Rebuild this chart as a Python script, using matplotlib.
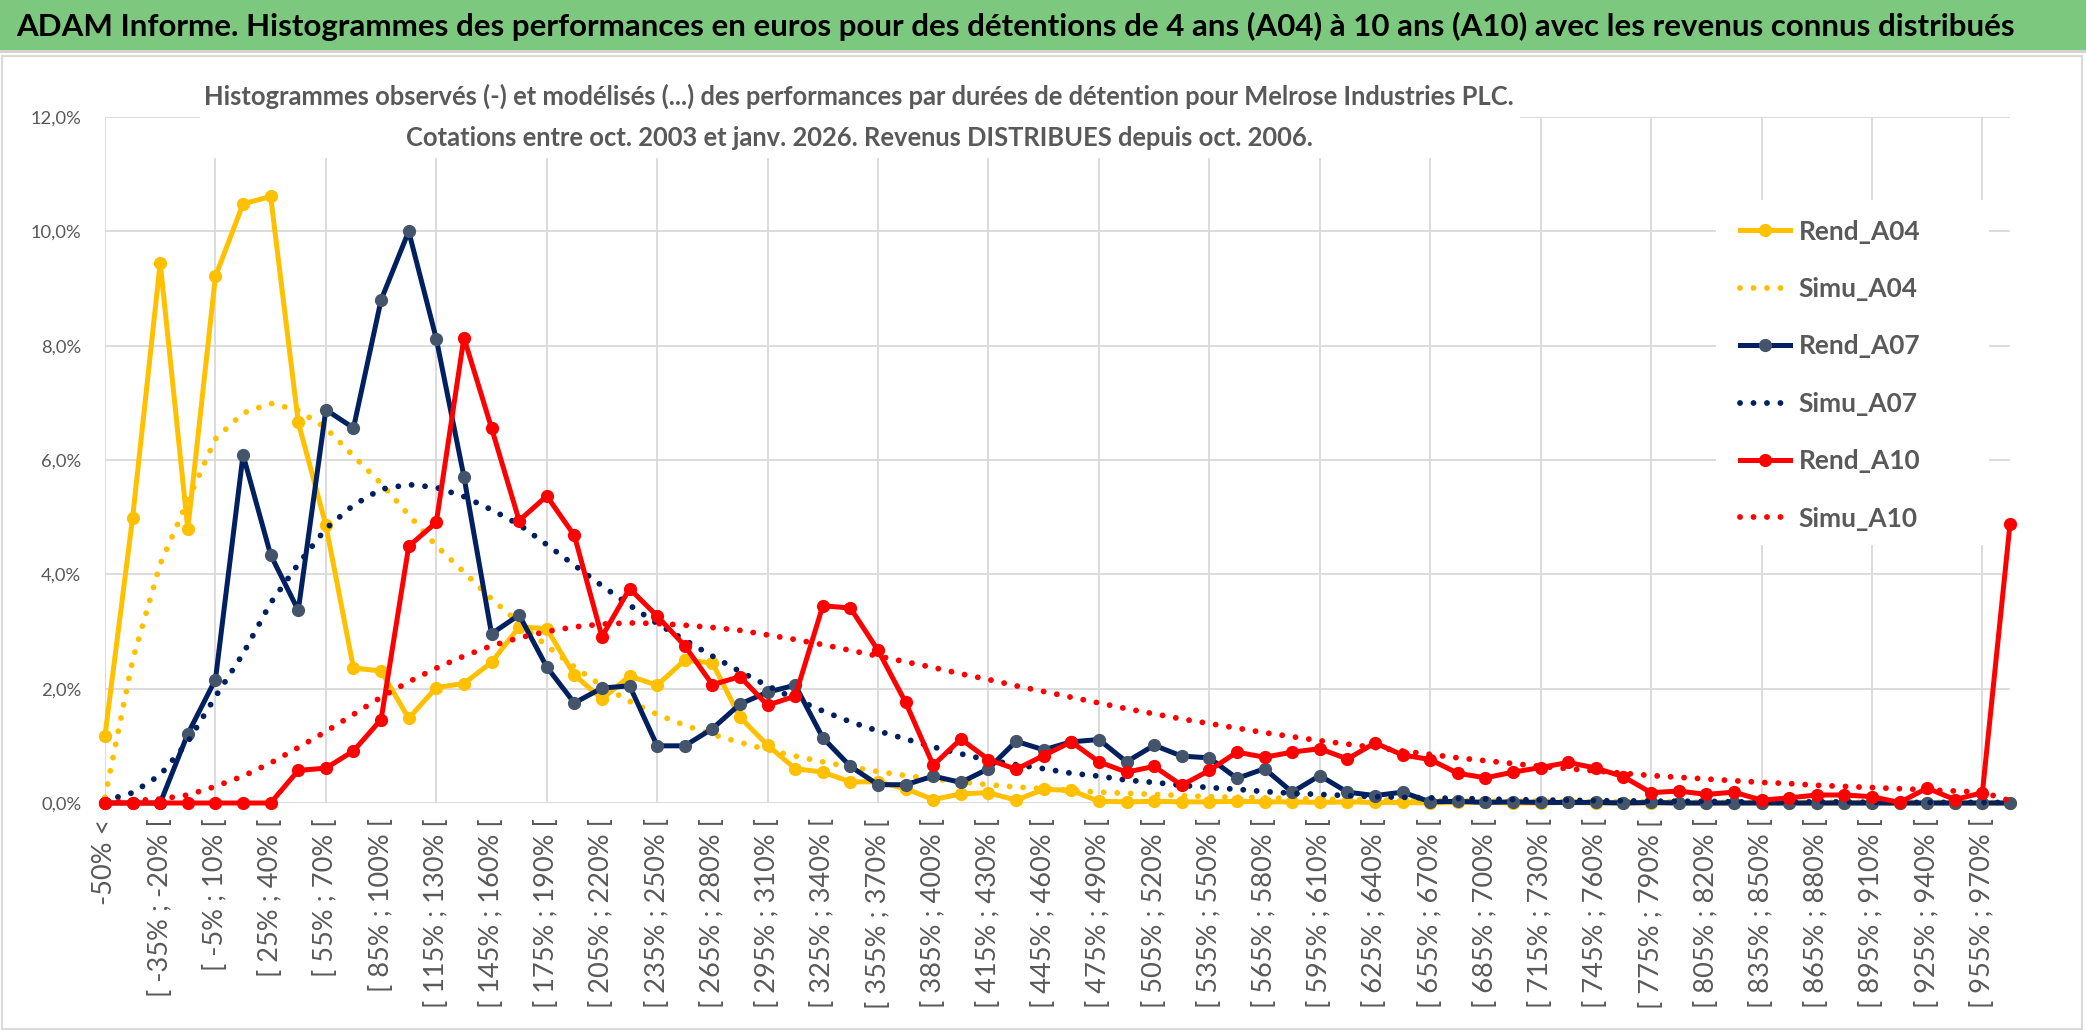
import numpy as np
import matplotlib
matplotlib.use("Agg")
import matplotlib.pyplot as plt
from matplotlib.patches import Rectangle
from matplotlib.lines import Line2D

plt.rcParams['font.family'] = ['Lato', 'DejaVu Sans']

# Classes de performance (pas de 15 %)
classes = ["-50% <"] + [f"[ {a}% ; {a + 15}% [" for a in range(-50, 970, 15)] + ["970% >="]

# Histogrammes observés (en %)
rend_a04 = [1.18, 4.99, 9.45, 4.79, 9.21, 10.48, 10.61, 6.66, 4.86, 2.36,
            2.31, 1.48, 2.02, 2.09, 2.46, 3.08, 3.05, 2.24, 1.82, 2.22,
            2.06, 2.50, 2.45, 1.50, 1.01, 0.60, 0.54, 0.37, 0.37, 0.25,
            0.06, 0.16, 0.18, 0.05, 0.24, 0.22, 0.03, 0.02, 0.03, 0.02,
            0.02, 0.03, 0.02, 0.02, 0.01, 0.02, 0.01, 0.01, 0.00, 0.01,
            0.01, 0.00, 0.00, 0.01, 0.00, 0.00, 0.00, 0.00, 0.00, 0.00,
            0.00, 0.00, 0.00, 0.00, 0.00, 0.00, 0.00, 0.00, 0.00, 0.00]
rend_a07 = [0.00, 0.00, 0.00, 1.21, 2.16, 6.09, 4.34, 3.37, 6.88, 6.56,
            8.80, 10.00, 8.12, 5.71, 2.96, 3.29, 2.38, 1.75, 2.01, 2.05,
            1.00, 1.00, 1.30, 1.73, 1.94, 2.06, 1.14, 0.64, 0.32, 0.32,
            0.47, 0.36, 0.60, 1.08, 0.93, 1.07, 1.11, 0.72, 1.01, 0.82,
            0.79, 0.43, 0.60, 0.19, 0.48, 0.19, 0.13, 0.19, 0.02, 0.03,
            0.01, 0.02, 0.01, 0.01, 0.01, 0.00, 0.01, 0.00, 0.00, 0.00,
            0.00, 0.00, 0.00, 0.00, 0.00, 0.00, 0.00, 0.00, 0.00, 0.00]
rend_a10 = [0.00, 0.00, 0.00, 0.00, 0.00, 0.00, 0.00, 0.57, 0.61, 0.91,
            1.46, 4.49, 4.91, 8.14, 6.56, 4.94, 5.37, 4.68, 2.91, 3.75,
            3.27, 2.75, 2.07, 2.21, 1.71, 1.87, 3.45, 3.41, 2.67, 1.76,
            0.66, 1.12, 0.76, 0.59, 0.83, 1.07, 0.72, 0.54, 0.64, 0.31,
            0.57, 0.89, 0.80, 0.89, 0.95, 0.77, 1.05, 0.84, 0.76, 0.52,
            0.44, 0.54, 0.62, 0.71, 0.61, 0.46, 0.18, 0.21, 0.15, 0.19,
            0.05, 0.09, 0.14, 0.14, 0.11, 0.01, 0.26, 0.06, 0.18, 4.88]

# Histogrammes modélisés (en %)
simu_a04 = [0.10, 2.50, 4.18, 5.29, 6.37, 6.82, 6.99, 6.87, 6.56, 6.07,
            5.59, 5.04, 4.50, 4.04, 3.57, 3.15, 2.75, 2.38, 2.05, 1.78,
            1.55, 1.36, 1.20, 1.06, 0.93, 0.82, 0.72, 0.63, 0.55, 0.48,
            0.42, 0.37, 0.32, 0.28, 0.25, 0.22, 0.19, 0.17, 0.15, 0.13,
            0.11, 0.10, 0.09, 0.08, 0.07, 0.06, 0.05, 0.05, 0.04, 0.04,
            0.03, 0.03, 0.03, 0.02, 0.02, 0.02, 0.02, 0.02, 0.01, 0.01,
            0.01, 0.01, 0.01, 0.01, 0.01, 0.01, 0.01, 0.01, 0.01, 0.01]
simu_a07 = [0.04, 0.18, 0.49, 1.07, 1.86, 2.61, 3.50, 4.18, 4.80, 5.21,
            5.49, 5.57, 5.52, 5.36, 5.13, 4.87, 4.52, 4.16, 3.80, 3.46,
            3.14, 2.85, 2.57, 2.30, 2.05, 1.82, 1.61, 1.42, 1.26, 1.12,
            0.98, 0.86, 0.75, 0.67, 0.60, 0.52, 0.47, 0.40, 0.36, 0.31,
            0.27, 0.24, 0.20, 0.17, 0.15, 0.13, 0.11, 0.10, 0.09, 0.08,
            0.07, 0.06, 0.05, 0.05, 0.04, 0.04, 0.03, 0.03, 0.03, 0.02,
            0.02, 0.02, 0.02, 0.02, 0.01, 0.01, 0.01, 0.01, 0.01, 0.01]
simu_a10 = [0.01, 0.04, 0.07, 0.14, 0.29, 0.47, 0.70, 0.97, 1.25, 1.55,
            1.85, 2.12, 2.36, 2.57, 2.75, 2.89, 3.00, 3.08, 3.13, 3.15,
            3.14, 3.11, 3.07, 3.02, 2.94, 2.86, 2.77, 2.67, 2.57, 2.47,
            2.37, 2.26, 2.16, 2.05, 1.95, 1.85, 1.75, 1.65, 1.56, 1.47,
            1.39, 1.31, 1.23, 1.16, 1.09, 1.03, 0.97, 0.91, 0.85, 0.79,
            0.74, 0.69, 0.64, 0.60, 0.56, 0.52, 0.48, 0.45, 0.42, 0.39,
            0.36, 0.34, 0.31, 0.29, 0.27, 0.25, 0.23, 0.21, 0.19, 0.04]

y_ticks = [0, 2, 4, 6, 8, 10, 12]
y_labels = ["0,0%", "2,0%", "4,0%", "6,0%", "8,0%", "10,0%", "12,0%"]

titre = ("ADAM Informe. Histogrammes des performances en euros pour des détentions "
         "de 4 ans (A04) à 10 ans (A10) avec les revenus connus distribués")
sous_titre_1 = ("Histogrammes observés (-) et modélisés (...) des performances par durées "
                "de détention pour Melrose Industries PLC.")
sous_titre_2 = "Cotations entre oct. 2003 et janv. 2026. Revenus DISTRIBUES depuis oct. 2006."
noms = ["Rend_A04", "Simu_A04", "Rend_A07", "Simu_A07", "Rend_A10", "Simu_A10"]

JAUNE, MARINE, ROUGE, GRIS = "#FFC000", "#002060", "#FF0000", "#595959"
W, H = 2086, 1031

fig = plt.figure(figsize=(W / 100, H / 100), dpi=100)
fig.patch.set_facecolor("white")
rend = fig.canvas.get_renderer()


def taille_pour(texte, largeur, **kw):
    # taille de police donnant la largeur voulue (en pixels)
    t = fig.text(0, 0, texte, fontsize=20, **kw)
    w = t.get_window_extent(rend).width
    t.remove()
    return 20 * largeur / w


ax = fig.add_axes([105 / W, 1 - 803 / H, 1905 / W, 686 / H])
x = np.arange(len(classes))

# grille
for yv in y_ticks:
    ax.axhline(yv, color="#D9D9D9", lw=1.3, zorder=0)
for xv in range(0, len(classes), 4):
    ax.axvline(xv, color="#D9D9D9", lw=1.3, zorder=0)

rend_kw = dict(lw=3.6, marker="o", ms=8.5, clip_on=False, solid_joinstyle="round")
simu_kw = dict(lw=4.2, ls=(0, (0.01, 2.3)), dash_capstyle="round", clip_on=False)

l1, = ax.plot(x, rend_a04, color=JAUNE, mfc=JAUNE, mec=JAUNE, **rend_kw)
l2, = ax.plot(x, simu_a04, color=JAUNE, **simu_kw)
l3, = ax.plot(x, rend_a07, color=MARINE, mfc="#44546A", mec="#44546A", **rend_kw)
l4, = ax.plot(x, simu_a07, color=MARINE, **simu_kw)
l5, = ax.plot(x, rend_a10, color=ROUGE, mfc=ROUGE, mec=ROUGE, **rend_kw)
l6, = ax.plot(x, simu_a10, color=ROUGE, **simu_kw)

ax.set_xlim(0, len(classes) - 1)
ax.set_ylim(0, 12)
for s in ax.spines.values():
    s.set_visible(False)
ax.set_yticks(y_ticks)
ax.set_yticklabels(y_labels)
ax.set_xticks(x[::2])
ax.set_xticklabels(classes[::2], rotation=90, va="top", ha="center")
ax.tick_params(axis="y", length=0, pad=17, labelsize=taille_pour("12,0%", 51), labelcolor=GRIS)
ax.tick_params(axis="x", length=0, pad=11, labelsize=taille_pour("-50% <", 86), labelcolor=GRIS)

# bandeau vert + cadre
fig.patches.append(Rectangle((0, 1 - 50 / H), 1, 50 / H, transform=fig.transFigure,
                             facecolor="#7DC87F", edgecolor="none", zorder=1))
fig.lines.append(Line2D([0, 1], [1 - 51 / H, 1 - 51 / H], transform=fig.transFigure,
                        color="#D0D0D0", lw=2, zorder=1))
fig.patches.append(Rectangle((2 / W, 2 / H), 2080 / W, (H - 58) / H, transform=fig.transFigure,
                             facecolor="none", edgecolor="#D9D9D9", lw=1.5, zorder=1))
fig.text(16 / W, 1 - 26 / H, titre, fontsize=taille_pour(titre, 1995, fontweight="bold"),
         fontweight="bold", color="black", va="center", ha="left", zorder=3)

# titre du graphique (fond blanc)
fig.patches.append(Rectangle((200 / W, 1 - 158 / H), 1320 / W, 92 / H, transform=fig.transFigure,
                             facecolor="white", edgecolor="none", zorder=1))
ts = taille_pour(sous_titre_1, 1312, fontweight="bold")
fig.text(859 / W, 1 - 96 / H, sous_titre_1, fontsize=ts, fontweight="bold",
         color=GRIS, ha="center", va="center", zorder=3)
fig.text(859 / W, 1 - 138 / H, sous_titre_2, fontsize=ts, fontweight="bold",
         color=GRIS, ha="center", va="center", zorder=3)

# légende (fond blanc)
fig.patches.append(Rectangle((1716 / W, 1 - 545 / H), 273 / W, 345 / H, transform=fig.transFigure,
                             facecolor="white", edgecolor="none", zorder=1))
tl = taille_pour("Rend_A04", 122, fontweight="bold")
leg = fig.legend([l1, l2, l3, l4, l5, l6], noms,
                 loc="upper left", bbox_to_anchor=(1729 / W, 1 - 209 / H), frameon=False,
                 prop=dict(size=tl, weight="bold"), labelcolor=GRIS, numpoints=1,
                 handlelength=1.9, handletextpad=0.35, labelspacing=1.27, borderaxespad=0)

fig.savefig("out.png", dpi=100)
